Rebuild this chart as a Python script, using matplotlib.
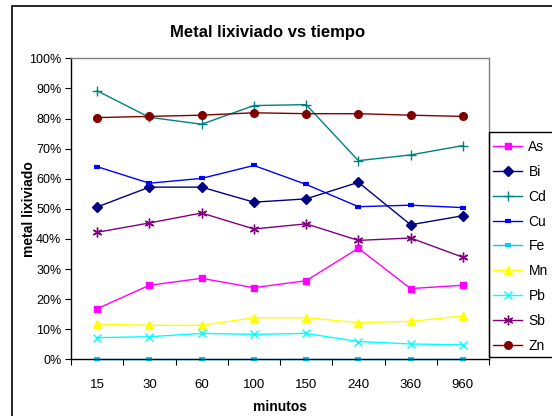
import matplotlib
matplotlib.use('Agg')
import matplotlib.pyplot as plt
from matplotlib.patches import Rectangle

plt.rcParams['font.family'] = ['Liberation Sans', 'DejaVu Sans']

minutos = ['15', '30', '60', '100', '150', '240', '360', '960']

As = [16.8, 24.6, 26.9, 23.8, 26.1, 36.9, 23.5, 24.6]
Bi = [50.6, 57.2, 57.2, 52.2, 53.3, 58.8, 44.7, 47.7]
Cd = [89.2, 80.4, 78.1, 84.3, 84.6, 66.0, 67.9, 71.0]
Cu = [64.0, 58.5, 60.1, 64.4, 58.1, 50.7, 51.2, 50.4]
Fe = [0.0, 0.0, 0.0, 0.0, 0.0, 0.0, 0.0, 0.0]
Mn = [11.7, 11.3, 11.3, 13.8, 13.8, 12.2, 12.6, 14.4]
Pb = [7.2, 7.5, 8.6, 8.3, 8.6, 5.9, 5.1, 4.8]
Sb = [42.2, 45.3, 48.6, 43.3, 45.0, 39.5, 40.3, 33.9]
Zn = [80.3, 80.7, 81.1, 81.9, 81.6, 81.6, 81.1, 80.7]

series = [
    ('As', As, '#FF00FF', 's', 5, 1),
    ('Bi', Bi, '#000080', 'D', 5, 1),
    ('Cd', Cd, '#008080', '+', 7, 1),
    ('Cu', Cu, '#0000FF', '_', 4, 3),
    ('Fe', Fe, '#00CCFF', '_', 4, 3),
    ('Mn', Mn, '#FFFF00', '^', 6, 1),
    ('Pb', Pb, '#00FFFF', 'x', 6, 1),
    ('Sb', Sb, '#800080', (6, 2, 0), 7, 1),
    ('Zn', Zn, '#800000', 'o', 5.5, 1),
]

fig = plt.figure(figsize=(5.52, 4.16), dpi=100)
ax = fig.add_axes([71/552, 1 - 359.3/416, (489 - 71)/552, (359.3 - 58.3)/416])

x = list(range(len(minutos)))
for name, vals, col, mk, ms, mew in series:
    ax.plot(x, vals, color=col, marker=mk, markersize=ms, markeredgewidth=mew,
            markerfacecolor=col, markeredgecolor=col, linewidth=1.0, label=name,
            clip_on=False)

ax.set_xlim(-0.5, len(minutos) - 0.5)
ax.set_ylim(0, 100)
ax.set_yticks(range(0, 101, 10))
ax.set_yticklabels(['%d%%' % v for v in range(0, 101, 10)], fontsize=9)
ax.set_xticks(x)
ax.set_xticklabels(minutos, fontsize=9.5)
ax.set_xticks([i - 0.5 for i in range(len(minutos) + 1)], minor=True)
ax.tick_params(axis='x', which='major', length=0, pad=14)
ax.tick_params(axis='x', which='minor', length=4, direction='out', width=0.8)
ax.tick_params(axis='y', length=4, direction='out', width=0.8, pad=3)

ax.spines['left'].set_color('black')
ax.spines['bottom'].set_color('black')
ax.spines['top'].set_color('#808080')
ax.spines['right'].set_color('#808080')
for s in ax.spines.values():
    s.set_linewidth(1.0)

fig.text(268/552, 1 - 33/416, 'Metal lixiviado vs tiempo', fontsize=12, fontweight='bold',
         ha='center', va='center')
ax.set_xlabel('minutos', fontsize=10, fontweight='bold', labelpad=7)
ax.set_ylabel('metal lixiviado', fontsize=10, fontweight='bold')
ax.yaxis.set_label_coords((36 - 71)/418, 0.5)

# outer chart border
fig.patches.append(Rectangle((12/552, -0.1), 1.0, 1 - 6/416 + 0.1, transform=fig.transFigure,
                             fill=False, edgecolor='black', linewidth=1.2))
# legend box
fig.patches.append(Rectangle((489/552, 1 - 357/416), 0.5, (357 - 132)/416, transform=fig.transFigure,
                             fill=False, edgecolor='black', linewidth=1.0))

fig.legend(loc='upper left', bbox_to_anchor=(493/552, 1 - 140/416), frameon=False,
           fontsize=10, handlelength=2.1, handletextpad=0.45, labelspacing=0.78,
           borderpad=0.0, borderaxespad=0.0)

fig.savefig('out.png', dpi=100)
